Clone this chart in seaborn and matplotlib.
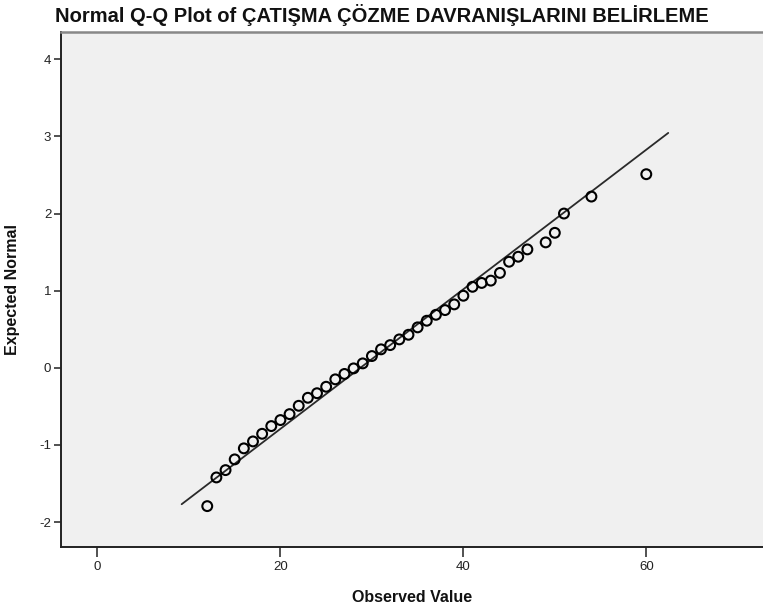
import numpy as np
import pandas as pd
import matplotlib
matplotlib.use("Agg")
import matplotlib.pyplot as plt
import seaborn as sns

# Data
observed = [12, 13, 14, 15, 16, 17, 18, 19, 20, 21, 22, 23, 24, 25, 26, 27, 28, 29,
            30, 31, 32, 33, 34, 35, 36, 37, 38, 39, 40, 41, 42, 43, 44, 45, 46, 47,
            49, 50, 51, 54, 60]
expected = [-1.794, -1.422, -1.327, -1.188, -1.045, -0.955, -0.856, -0.756, -0.678,
            -0.601, -0.493, -0.389, -0.330, -0.246, -0.150, -0.080, -0.008, 0.057,
            0.152, 0.239, 0.294, 0.368, 0.428, 0.524, 0.610, 0.687, 0.748, 0.822,
            0.934, 1.050, 1.100, 1.130, 1.230, 1.375, 1.440, 1.535, 1.626, 1.750,
            2.000, 2.220, 2.510]
line_x = [9.2, 62.4]
line_mean = 28.75
line_sd = 11.05
x_ticks = [0, 20, 40, 60]
y_ticks = [-2, -1, 0, 1, 2, 3, 4]

title = "Normal Q-Q Plot of ÇATIŞMA ÇÖZME DAVRANIŞLARINI BELİRLEME"

sns.set_theme(style="white")
plt.rcParams['font.family'] = ['Liberation Sans', 'DejaVu Sans']

W, H = 763, 608
fig = plt.figure(figsize=(W / 100, H / 100), dpi=100)
fig.patch.set_facecolor("white")
left, right, top, bottom = 61, 763, 32, 547
ax = fig.add_axes([left / W, 1 - bottom / H, (right - left) / W, (bottom - top) / H])
ax.set_facecolor("#F0F0F0")

pts = pd.DataFrame({"Observed": observed, "Expected": expected})
lx = np.array(line_x)
line = pd.DataFrame({"x": lx, "y": (lx - line_mean) / line_sd})

sns.lineplot(data=line, x="x", y="y", ax=ax, color="#2a2a2a", linewidth=1.3, zorder=2)
sns.scatterplot(data=pts, x="Observed", y="Expected", ax=ax, s=50, marker="o",
                facecolors="none", edgecolors="black", linewidths=1.5, zorder=3)

ax.set_xlim(-3.99, 72.76)
ax.set_ylim(-2.324, 4.354)
ax.set_xticks(x_ticks)
ax.set_yticks(y_ticks)
ax.set_xticklabels([str(v) for v in x_ticks])
ax.set_yticklabels([str(v) for v in y_ticks])
ax.tick_params(axis="x", direction="out", length=7, width=1.2, color="#333333",
               labelsize=9.5, labelcolor="#222222", pad=3, bottom=True)
ax.tick_params(axis="y", direction="out", length=5, width=1.2, color="#333333",
               labelsize=9.5, labelcolor="#222222", pad=2, left=True)

for side in ["left", "bottom"]:
    ax.spines[side].set_color("#222222")
    ax.spines[side].set_linewidth(1.4)
ax.spines["top"].set_color("#888888")
ax.spines["top"].set_linewidth(1.8)
ax.spines["right"].set_visible(False)

ax.set_xlabel("Observed Value", fontsize=11.5, fontweight="bold", color="#111111", labelpad=12)
ax.set_ylabel("Expected Normal", fontsize=11.5, fontweight="bold", color="#111111", labelpad=14)
ax.grid(False)

fig.text(0.5, 1 - 15 / H, title, ha="center", va="center", fontsize=14.5,
         fontweight="semibold", color="#111111")

fig.savefig("out.png", dpi=100, facecolor="white")
